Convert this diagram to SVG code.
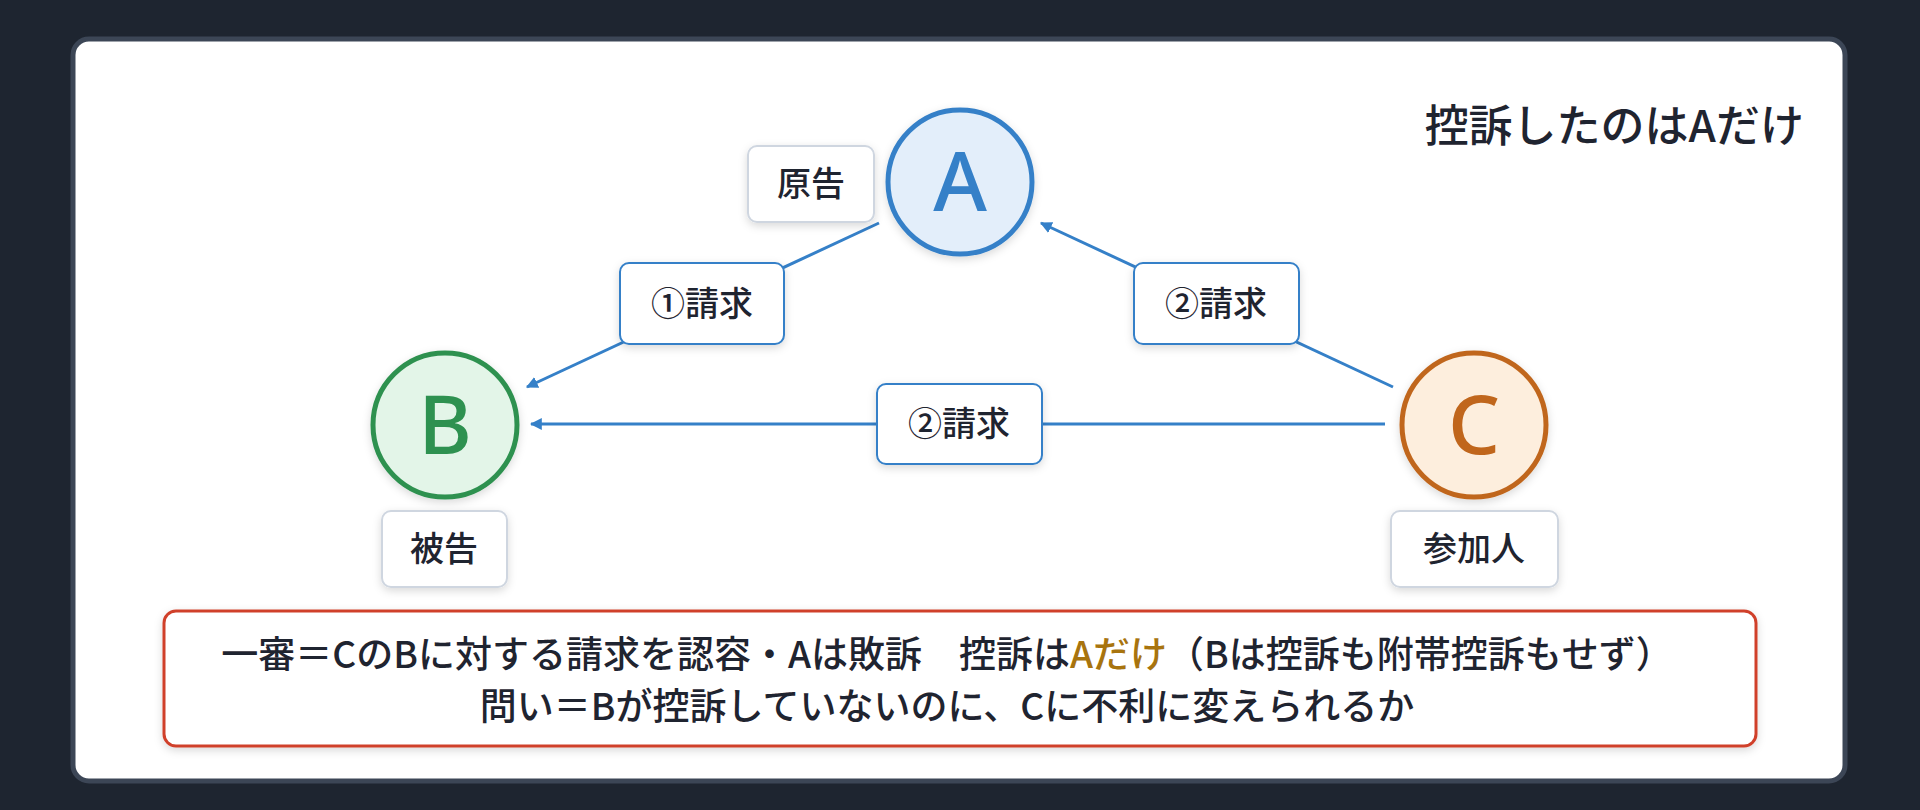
<svg xmlns="http://www.w3.org/2000/svg" width="1920" height="810" viewBox="0 0 1920 810">
<style>
text{font-family:"Noto Sans CJK JP","Noto Sans",sans-serif;fill:#1f2430}
.lbl{font-size:34px;font-weight:500;text-anchor:middle}
.role{fill:#fff;stroke:#cfd6e0;stroke-width:2}
.req{fill:#fff;stroke:#3580c8;stroke-width:2}
.edge{stroke:#3580c8;stroke-width:3;fill:none;marker-end:url(#ah)}
.big{font-family:"Noto Sans","Inter",sans-serif;font-size:82px;font-weight:500;text-anchor:middle}
</style>
<defs>
<marker id="ah" viewBox="0 0 10 10" refX="9" refY="5" markerWidth="4" markerHeight="4" orient="auto"><path d="M0,0L10,5L0,10z" fill="#3580c8"/></marker>
<filter id="sh" x="-20%" y="-20%" width="140%" height="140%"><feDropShadow dx="0" dy="3" stdDeviation="4" flood-color="#000" flood-opacity="0.15"/></filter>
</defs>
<rect width="1920" height="810" fill="#1e2530"/>
<rect x="73" y="39" width="1772" height="742" rx="16" fill="#fff" stroke="#3c4656" stroke-width="5"/>
<text x="1804" y="142" font-size="44" font-weight="500" text-anchor="end">控訴したのはAだけ</text>
<g id="connectors">
<line class="edge" x1="879" y1="223" x2="527" y2="387"/>
<line class="edge" x1="1393" y1="387" x2="1041" y2="223"/>
<line class="edge" x1="1385" y1="424" x2="531" y2="424"/>
<g id="l1"><rect class="req" x="620" y="263" width="164" height="81" rx="9" filter="url(#sh)"/><text class="lbl" x="702" y="316">①請求</text></g>
<g id="l2"><rect class="req" x="1134" y="263" width="165" height="81" rx="9" filter="url(#sh)"/><text class="lbl" x="1216" y="316">②請求</text></g>
<g id="l3"><rect class="req" x="877" y="384" width="165" height="80" rx="9" filter="url(#sh)"/><text class="lbl" x="959" y="436">②請求</text></g>
</g>
<g id="nodeA"><circle cx="960" cy="182" r="72" fill="#e3eefa" stroke="#3580c8" stroke-width="5" filter="url(#sh)"/><text class="big" x="960" y="211" style="fill:#3580c8">A</text>
<rect class="role" x="748" y="146" width="126" height="76" rx="9" filter="url(#sh)"/><text class="lbl" x="811" y="196">原告</text></g>
<g id="nodeB"><circle cx="445" cy="425" r="72" fill="#e3f5e8" stroke="#2e9150" stroke-width="5" filter="url(#sh)"/><text class="big" x="445" y="454" style="fill:#2e9150">B</text>
<rect class="role" x="382" y="511" width="125" height="76" rx="9" filter="url(#sh)"/><text class="lbl" x="444" y="561">被告</text></g>
<g id="nodeC"><circle cx="1474" cy="425" r="72" fill="#fdeedd" stroke="#c0661c" stroke-width="5" filter="url(#sh)"/><text class="big" x="1474" y="454" style="fill:#c0661c">C</text>
<rect class="role" x="1391" y="511" width="167" height="76" rx="9" filter="url(#sh)"/><text class="lbl" x="1474" y="561">参加人</text></g>
<g id="note"><rect x="164" y="611" width="1592" height="135" rx="12" fill="#fff" stroke="#d0402b" stroke-width="3" filter="url(#sh)"/>
<text x="947" y="668" font-size="37" font-weight="500" text-anchor="middle">一審＝CのBに対する請求を認容・Aは敗訴　控訴は<tspan style="fill:#a8740e">Aだけ</tspan>（Bは控訴も附帯控訴もせず）</text>
<text x="947" y="720" font-size="37" font-weight="500" text-anchor="middle">問い＝Bが控訴していないのに、Cに不利に変えられるか</text></g>
</svg>
